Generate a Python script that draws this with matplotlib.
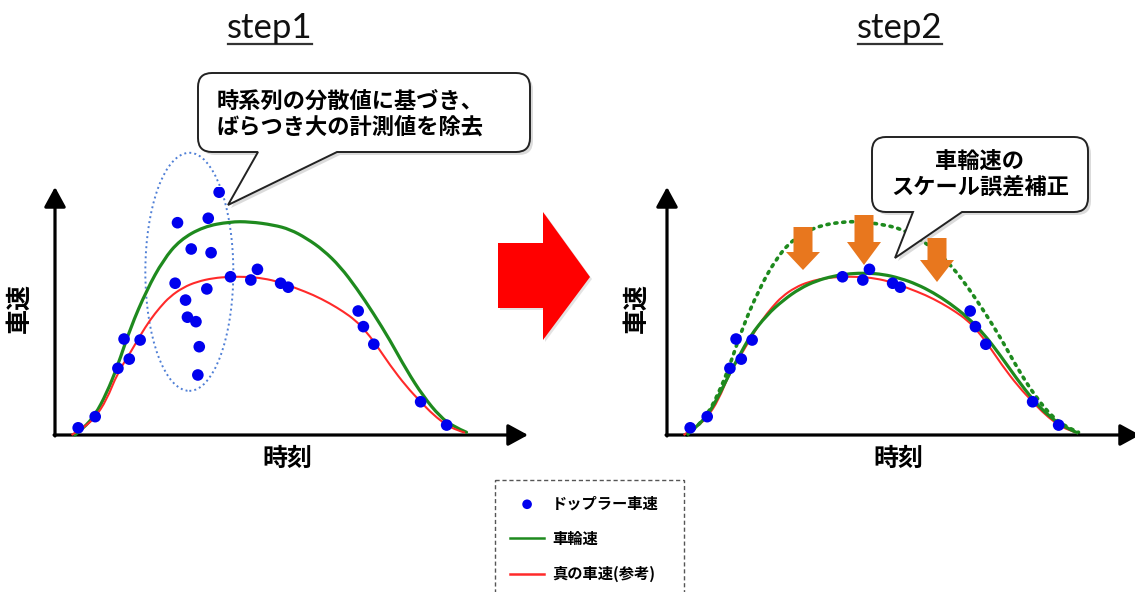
import matplotlib
matplotlib.use("Agg")
import matplotlib.pyplot as plt
from matplotlib.path import Path
from matplotlib.patches import PathPatch, Polygon, Ellipse, Rectangle
from matplotlib.lines import Line2D
from matplotlib.font_manager import FontProperties

plt.rcParams['font.family'] = ['Noto Sans CJK JP', 'DejaVu Sans']

# ---------------- data (time 0-100, speed 0-100) ----------------
# Doppler speed measurements kept in step 2
dop_t = [4.9, 8.5, 13.3, 14.6, 15.7, 18.0, 37.1, 41.4, 42.8, 47.7, 49.3, 64.1, 65.2, 67.4, 77.3, 82.8]
dop_v = [2.9, 7.4, 26.9, 38.7, 30.6, 38.3, 63.8, 62.5, 66.8, 61.2, 59.6, 50.0, 43.7, 36.6, 13.4, 4.0]
# Doppler speed outliers (large variance, removed in step 2)
out_t = [34.7, 25.9, 32.4, 28.8, 33.0, 25.4, 32.1, 27.6, 28.0, 29.8, 30.5, 30.2]
out_v = [97.9, 85.6, 87.4, 75.0, 73.5, 61.2, 58.9, 54.4, 47.5, 45.7, 35.6, 24.2]

# true speed (reference)
true_t = [3.5, 4.9, 6.7, 8.5, 10.9, 13.2, 15.9, 18.0, 20.1, 22.2, 24.3, 27.1, 30.0, 33.5, 37.0, 40.5,
          44.0, 47.6, 51.1, 54.6, 58.1, 61.0, 63.4, 65.5, 67.7, 70.8, 74.3, 77.3, 80.0, 82.8, 84.9, 86.7]
true_v = [0.0, 1.7, 4.0, 7.1, 14.1, 24.9, 33.1, 40.1, 46.4, 51.5, 55.8, 59.5, 61.8, 63.3, 63.8, 63.8,
          63.2, 61.6, 59.1, 56.5, 53.1, 49.7, 46.4, 42.3, 37.0, 28.2, 19.5, 13.4, 8.1, 4.0, 2.0, 0.9]

# wheel speed before correction
wheel_t = [4.2, 6.0, 8.5, 10.9, 13.2, 15.9, 19.4, 22.9, 26.4, 31.4, 37.0, 41.2, 46.2, 49.7, 53.2,
           56.7, 60.3, 63.8, 67.3, 70.8, 74.3, 77.9, 81.4, 84.2, 87.0]
wheel_v = [0.0, 2.7, 8.1, 16.8, 27.6, 43.0, 58.5, 70.6, 78.6, 84.0, 86.0, 86.0, 84.7, 82.9, 79.3,
           74.6, 67.9, 59.1, 49.1, 38.3, 26.2, 15.5, 7.4, 3.4, 1.1]

# wheel speed after scale-error correction
corr_t = [4.2, 6.3, 8.4, 10.5, 13.3, 15.4, 17.5, 21.1, 24.6, 28.1, 31.6, 35.2, 38.7, 42.2, 45.7,
          49.3, 52.8, 56.3, 59.8, 63.4, 66.9, 70.4, 73.9, 77.4, 81.0, 84.5, 87.0]
corr_v = [0.0, 3.4, 7.7, 14.1, 25.1, 32.3, 39.7, 48.4, 54.4, 59.1, 62.2, 64.1, 65.1, 65.3, 64.8,
          63.2, 60.8, 57.4, 53.1, 47.7, 41.0, 32.3, 22.8, 14.1, 7.1, 2.7, 0.7]

titles = ["step1", "step2"]
xlabel = "時刻"
ylabel = "車速"
legend_labels = ["ドップラー車速", "車輪速", "真の車速(参考)"]
bubble1 = ["時系列の分散値に基づき、", "ばらつき大の計測値を除去"]
bubble2 = ["車輪速の", "スケール誤差補正"]

# ---------------- styling ----------------
W, H = 1135, 592
BLUE = '#0000EE'
GREEN = '#1E8A1E'
RED = '#FF2A2A'
ORANGE = '#E8771E'
CJK = ['Noto Sans CJK JP', 'DejaVu Sans']

fig = plt.figure(figsize=(W / 100, H / 100), dpi=100)


def px_axes(x0, ytop, x1, ybot, **kw):
    return fig.add_axes([x0 / W, 1 - ybot / H, (x1 - x0) / W, (ybot - ytop) / H], **kw)


def setup_panel(ax):
    ax.set_xlim(0, 100)
    ax.set_ylim(0, 100)
    ax.axis('off')
    arr = dict(arrowstyle='-|>,head_length=0.55,head_width=0.3', lw=2.3, color='black',
               shrinkA=0, shrinkB=0, mutation_scale=22)
    ax.annotate('', xy=(1, 0), xytext=(-0.002, 0), xycoords='axes fraction',
                arrowprops=arr, annotation_clip=False)
    ax.annotate('', xy=(0, 1), xytext=(0, -0.004), xycoords='axes fraction',
                arrowprops=arr, annotation_clip=False)


def smooth_curve(ax, ts, vs, **kw):
    """Draw a series as a smooth quadratic B-spline path in data coordinates."""
    pts = list(zip(ts, vs))
    n = len(pts)
    verts = [pts[0]]
    codes = [Path.MOVETO]
    for i in range(1, n - 1):
        if i == n - 2:
            end = pts[n - 1]
        else:
            end = ((pts[i][0] + pts[i + 1][0]) / 2, (pts[i][1] + pts[i + 1][1]) / 2)
        verts += [pts[i], end]
        codes += [Path.CURVE3, Path.CURVE3]
    ax.add_patch(PathPatch(Path(verts, codes), fill=False, clip_on=False, **kw))


axL = px_axes(55, 187, 528, 435)
axR = px_axes(667, 187, 1140, 435)
setup_panel(axL)
setup_panel(axR)

# left panel
smooth_curve(axL, wheel_t, wheel_v, edgecolor=GREEN, lw=2.3, zorder=3, capstyle='round')
smooth_curve(axL, true_t, true_v, edgecolor=RED, lw=1.5, zorder=3)
hD = axL.scatter(dop_t, dop_v, s=70, color=BLUE, edgecolors='none', zorder=5)
axL.scatter(out_t, out_v, s=70, color=BLUE, edgecolors='none', zorder=5)
axL.add_patch(Ellipse((28.4, 65.8), 18.6, 96, fill=False, edgecolor='#4F7FD6',
                      lw=1.4, linestyle=(0, (1, 1.6)), zorder=2, clip_on=False))

# right panel
smooth_curve(axR, wheel_t, wheel_v, edgecolor=GREEN, lw=2.6, linestyle=(0, (0.6, 1.6)),
             capstyle='round', zorder=2)
smooth_curve(axR, true_t, true_v, edgecolor=RED, lw=1.5, zorder=3)
smooth_curve(axR, corr_t, corr_v, edgecolor=GREEN, lw=2.3, zorder=4)
axR.scatter(dop_t, dop_v, s=70, color=BLUE, edgecolors='none', zorder=5)

# legend
hG = Line2D([], [], color=GREEN, lw=1.8)
hR = Line2D([], [], color=RED, lw=1.8)
leg = fig.legend([hD, hG, hR], legend_labels, loc='upper left',
                 bbox_to_anchor=(495 / W, 1 - 480 / H), bbox_transform=fig.transFigure,
                 prop=FontProperties(family=CJK, weight='bold', size=11),
                 frameon=False, borderpad=1.0, borderaxespad=0,
                 handlelength=2.2, handletextpad=0.55, labelspacing=1.27, scatterpoints=1)
leg.legend_handles[0].set_sizes([48])

# ---------------- overlay (annotations in pixel coordinates) ----------------
ov = fig.add_axes([0, 0, 1, 1], zorder=10)
ov.set_xlim(0, W)
ov.set_ylim(H, 0)
ov.axis('off')
ov.patch.set_alpha(0)

# dashed legend frame (bottom runs off the figure as in the reference)
ov.add_patch(Rectangle((495, 480), 189, 125, fill=False, edgecolor='#555555', lw=1.0,
                       linestyle=(0, (3, 2)), clip_on=False))


def bubble(x0, y0, x1, y1, r, bl, br, tip):
    M, L, C, CL = Path.MOVETO, Path.LINETO, Path.CURVE3, Path.CLOSEPOLY
    verts = [(x0 + r, y0), (x1 - r, y0), (x1, y0), (x1, y0 + r), (x1, y1 - r),
             (x1, y1), (x1 - r, y1), (br, y1), tip, (bl, y1), (x0 + r, y1),
             (x0, y1), (x0, y1 - r), (x0, y0 + r), (x0, y0), (x0 + r, y0), (x0 + r, y0)]
    codes = [M, L, C, C, L, C, C, L, L, L, L, C, C, L, C, C, CL]
    sh = [(vx + 3, vy + 3) for vx, vy in verts]
    ov.add_patch(PathPatch(Path(sh, codes), facecolor='#999999', edgecolor='none', alpha=0.35))
    ov.add_patch(PathPatch(Path(verts, codes), facecolor='white', edgecolor='#222222',
                           lw=1.4, joinstyle='miter'))


bubble(198, 73, 530, 152, 14, 258, 337, (228, 205))
ov.text(217, 101, bubble1[0], fontsize=16, fontweight='bold', ha='left', va='center', family=CJK)
ov.text(217, 127, bubble1[1], fontsize=16, fontweight='bold', ha='left', va='center', family=CJK)

bubble(872, 137, 1088, 212, 14, 913, 962, (895, 258))
ov.text(980, 161, bubble2[0], fontsize=16, fontweight='bold', ha='center', va='center', family=CJK)
ov.text(980, 187, bubble2[1], fontsize=16, fontweight='bold', ha='center', va='center', family=CJK)

# titles with underline
for cx, t in zip([270, 900], titles):
    ov.text(cx, 38, t, fontsize=25, ha='center', va='baseline', family=['Lato', 'DejaVu Sans'],
            color='#111111')
    ov.plot([cx - 42, cx + 42], [43.5, 43.5], color='#333333', lw=1.6)

# axis labels
for cx in [287, 898]:
    ov.text(cx, 459, xlabel, fontsize=18, fontweight='bold', ha='center', va='center', family=CJK)
for cx in [20, 637]:
    ov.text(cx, 308, ylabel, fontsize=18, fontweight='bold', ha='center', va='center',
            rotation=90, family=CJK)

# big red arrow between the steps
red_arrow = [(498, 243), (543, 243), (543, 212), (590, 277), (543, 340), (543, 308), (498, 308)]
ov.add_patch(Polygon([(x + 2, y + 2) for x, y in red_arrow], closed=True, facecolor='#bbbbbb',
                     edgecolor='none', alpha=0.4))
ov.add_patch(Polygon(red_arrow, closed=True, facecolor='#FF0000', edgecolor='none'))

# orange correction arrows (center x, shaft top, head start, tip)
for cx, top, hs, tip in [(803, 227, 252, 270), (864, 215, 242, 265), (937, 238, 260, 282)]:
    sw, hw = 9.5, 17
    pts = [(cx - sw, top), (cx + sw, top), (cx + sw, hs), (cx + hw, hs), (cx, tip),
           (cx - hw, hs), (cx - sw, hs)]
    ov.add_patch(Polygon(pts, closed=True, facecolor=ORANGE, edgecolor='none'))

fig.savefig('out.png', dpi=100)
